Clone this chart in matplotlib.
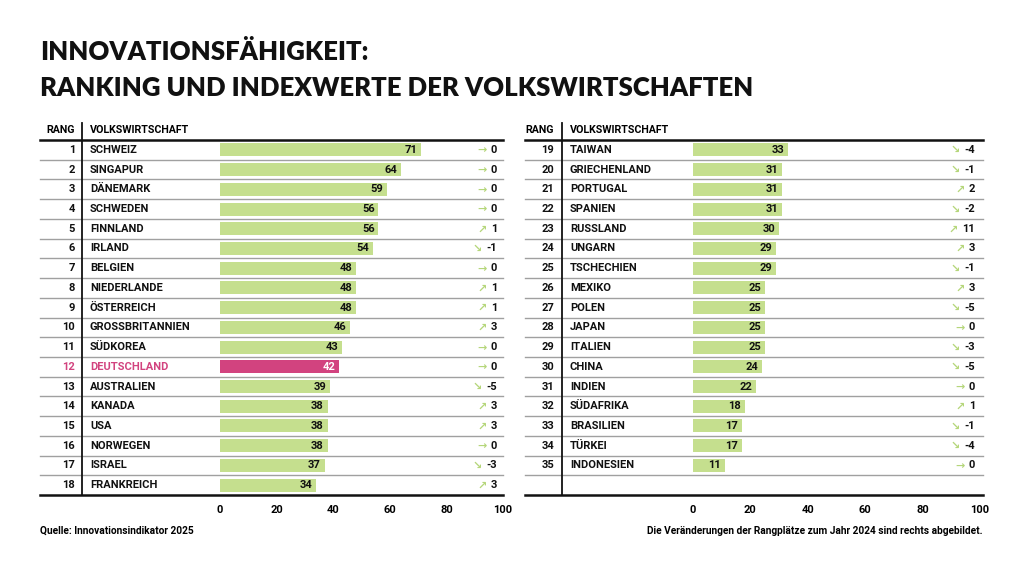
import numpy as np
import matplotlib
matplotlib.use("Agg")
import matplotlib.pyplot as plt

plt.rcParams['font.family'] = ['Roboto', 'DejaVu Sans']

# Daten
rang_links = list(range(1, 19))
laender_links = ["SCHWEIZ", "SINGAPUR", "DÄNEMARK", "SCHWEDEN", "FINNLAND", "IRLAND",
                 "BELGIEN", "NIEDERLANDE", "ÖSTERREICH", "GROSSBRITANNIEN", "SÜDKOREA",
                 "DEUTSCHLAND", "AUSTRALIEN", "KANADA", "USA", "NORWEGEN", "ISRAEL", "FRANKREICH"]
werte_links = [71, 64, 59, 56, 56, 54, 48, 48, 48, 46, 43, 42, 39, 38, 38, 38, 37, 34]
aenderung_links = [0, 0, 0, 0, 1, -1, 0, 1, 1, 3, 0, 0, -5, 3, 3, 0, -3, 3]

rang_rechts = list(range(19, 36))
laender_rechts = ["TAIWAN", "GRIECHENLAND", "PORTUGAL", "SPANIEN", "RUSSLAND", "UNGARN",
                  "TSCHECHIEN", "MEXIKO", "POLEN", "JAPAN", "ITALIEN", "CHINA", "INDIEN",
                  "SÜDAFRIKA", "BRASILIEN", "TÜRKEI", "INDONESIEN"]
werte_rechts = [33, 31, 31, 31, 30, 29, 29, 25, 25, 25, 25, 24, 22, 18, 17, 17, 11]
aenderung_rechts = [-4, -1, 2, -2, 11, 3, -1, 3, -5, 0, -3, -5, 0, 1, -1, -4, 0]

ticks = [0, 20, 40, 60, 80, 100]

GRUEN = "#c5df8e"
PINK = "#d2437f"
PFEIL = "#b5d67a"
W, H = 1024, 575
FS = 8

fig = plt.figure(figsize=(W / 100, H / 100), dpi=100)


def panel(px0, px1, cols, ranks, names, values, changes, n_rows=18):
    # Achse fuer den Balkenbereich (0..100), Zeilen 0..17
    top, bottom = 140, 495
    ax = fig.add_axes([px0 / W, 1 - bottom / H, (px1 - px0) / W, (bottom - top) / H])
    ax.set_xlim(0, 100)
    ax.set_ylim(n_rows - 0.5, -0.5)
    for s in ax.spines.values():
        s.set_visible(False)
    ax.set_yticks([])
    ax.set_xticks(ticks)
    ax.set_xticklabels([str(t) for t in ticks], fontsize=FS, fontweight='bold')
    ax.tick_params(axis='x', length=0, pad=7.5)

    scale = (px1 - px0) / 100.0
    x_start, x_end, x_rank, x_vline, x_name, x_chg = [(p - px0) / scale for p in cols]

    y = np.arange(len(values))
    colors = [PINK if n == "DEUTSCHLAND" else GRUEN for n in names]
    ax.barh(y, values, height=0.66, color=colors, zorder=2)

    # Linien
    for i in range(n_rows - 1):
        ax.plot([x_start, x_end], [i + 0.5, i + 0.5], color="#a0a0a0", lw=1.0,
                clip_on=False, zorder=1)
    ax.plot([x_start, x_end], [-0.5, -0.5], color="#111111", lw=1.8, clip_on=False)
    ax.plot([x_start, x_end], [n_rows - 0.5, n_rows - 0.5], color="#111111", lw=1.8,
            clip_on=False)
    ax.plot([x_vline, x_vline], [-1.35, n_rows - 0.5], color="#111111", lw=1.3,
            clip_on=False)

    # Kopfzeile
    ax.text(x_rank, -1.0, "RANG", ha='right', va='center', fontsize=FS - 0.3,
            fontweight='bold', clip_on=False)
    ax.text(x_name, -1.0, "VOLKSWIRTSCHAFT", ha='left', va='center', fontsize=FS - 0.3,
            fontweight='bold', clip_on=False)

    for i, (r, n, v, c) in enumerate(zip(ranks, names, values, changes)):
        tc = PINK if n == "DEUTSCHLAND" else "#111111"
        ax.text(x_rank, i, str(r), ha='right', va='center', fontsize=FS,
                fontweight='bold', color=tc, clip_on=False)
        ax.text(x_name, i, n, ha='left', va='center', fontsize=FS,
                fontweight='bold', color=tc, clip_on=False)
        vc = "white" if n == "DEUTSCHLAND" else "#111111"
        ax.text(v - 1.3, i, str(v), ha='right', va='center', fontsize=FS,
                fontweight='bold', color=vc, zorder=3)
        t = ax.text(x_chg, i, str(c), ha='right', va='center', fontsize=FS,
                    fontweight='bold', color="#111111", clip_on=False)
        pfeil = "→" if c == 0 else ("↗" if c > 0 else "↘")
        ax.annotate(pfeil, xy=(0, 0.45), xycoords=t, xytext=(-3, 0),
                    textcoords='offset points', ha='right', va='center', fontsize=8,
                    fontweight='bold', color=PFEIL, family='DejaVu Sans',
                    annotation_clip=False)
    return ax


panel(220, 503, [40, 503, 75, 81.5, 90, 497],
      rang_links, laender_links, werte_links, aenderung_links)
panel(693, 980, [525, 983, 554, 561.5, 570, 975],
      rang_rechts, laender_rechts, werte_rechts, aenderung_rechts)

# Titel
fig.text(40 / W, 1 - 52 / H, "INNOVATIONSFÄHIGKEIT:", ha='left', va='center',
         fontsize=18.5, fontweight='heavy', family='Lato', color="#111111")
fig.text(40 / W, 1 - 88 / H, "RANKING UND INDEXWERTE DER VOLKSWIRTSCHAFTEN", ha='left',
         va='center', fontsize=18.5, fontweight='heavy', family='Lato', color="#111111")

# Fusszeile
fig.text(40 / W, 1 - 531 / H, "Quelle: Innovationsindikator 2025", ha='left', va='center',
         fontsize=7.3, fontweight='bold')
fig.text(983 / W, 1 - 531 / H,
         "Die Veränderungen der Rangplätze zum Jahr 2024 sind rechts abgebildet.",
         ha='right', va='center', fontsize=7.3, fontweight='bold')

fig.savefig("out.png", dpi=100, facecolor="white")
